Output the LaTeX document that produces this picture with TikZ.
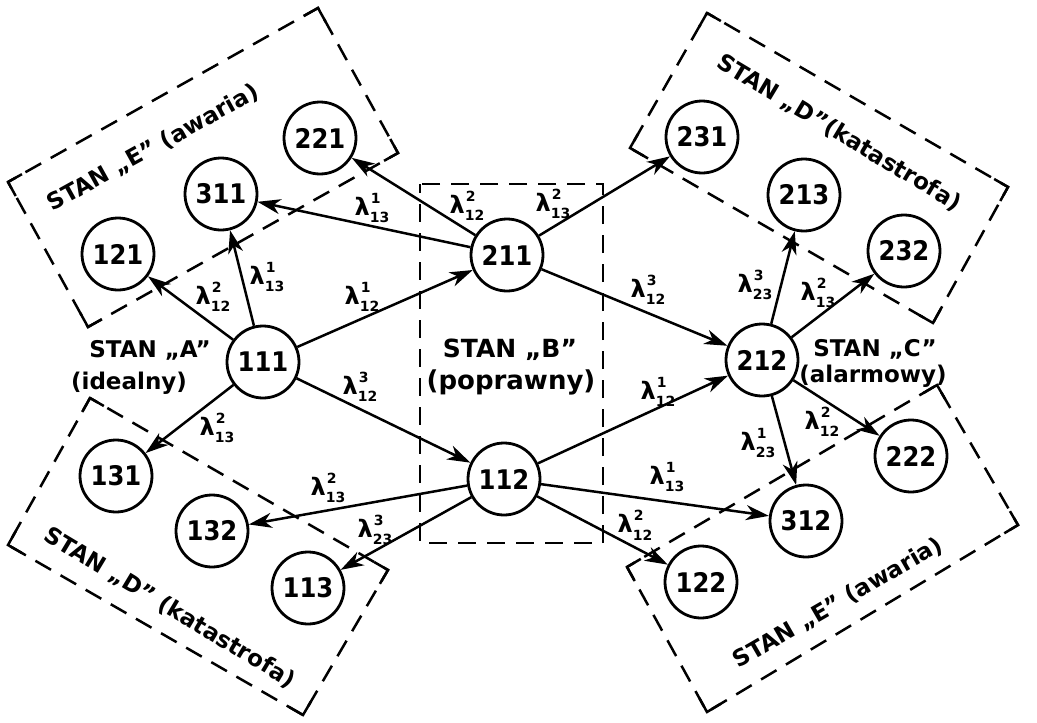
\documentclass[tikz,border=0pt]{standalone}
\usepackage{fontspec}
\setmainfont{DejaVu Sans}
\newfontfamily\numfont{DejaVu Sans Condensed}
\usetikzlibrary{arrows.meta,calc}
\newcommand\lam[2]{λ\raisebox{-0.3em}{\fontsize{14}{14}\selectfont\rlap{\raisebox{1.4em}{\hspace{1pt}#1}}#2}}
\begin{document}
\begin{tikzpicture}[x=1pt,y=-1pt,
  st/.style={circle,draw,line width=2.8pt,minimum size=72pt,inner sep=0pt,
    font=\numfont\fontsize{27}{27}\selectfont\bfseries},
  tr/.style={line width=2.5pt,-{Stealth[length=23pt,width=15pt,inset=7pt]}},
  lab/.style={font=\fontsize{24}{24}\selectfont\bfseries,inner sep=0pt},
  dbox/.style={line width=2.5pt,dash pattern=on 18pt off 11pt,dash phase=-20pt},
  crn/.style={line width=2.5pt,line join=miter},
  stxt/.style={font=\fontsize{23}{25}\selectfont\bfseries,inner sep=0pt}]
\useasboundingbox (0,0) rectangle (1037,723);

% dashed regions with solid corners
\foreach \ax/\ay/\bx/\by/\cx/\cy/\dx/\dy in {8/182/318/8/398/153/88/327,
                         90/398/388/570/303/715/8/545,
                         707/13/1008/187/933/323/630/148,
                         627/567/937/385/1018/525/707/712}{
  \coordinate (A) at (\ax,\ay);
  \coordinate (B) at (\bx,\by);
  \coordinate (C) at (\cx,\cy);
  \coordinate (D) at (\dx,\dy);
  \draw[dbox] (A) -- (B) -- (C) -- (D) -- cycle;
  \draw[crn] ($(A)!16pt!(B)$) -- (A) -- ($(A)!16pt!(D)$);
  \draw[crn] ($(B)!16pt!(C)$) -- (B) -- ($(B)!16pt!(A)$);
  \draw[crn] ($(C)!16pt!(D)$) -- (C) -- ($(C)!16pt!(B)$);
  \draw[crn] ($(D)!16pt!(A)$) -- (D) -- ($(D)!16pt!(C)$);
}
\draw[dbox] (420,184) rectangle (603,543);

% region texts
\node[stxt,rotate=29] (tE1) at (153,148) {STAN „E” (awaria)};
\node[stxt,rotate=-31] (tD1) at (170,608) {STAN „D” (katastrofa)};
\node[stxt,rotate=-31] (tD2) at (839,133) {STAN „D”(katastrofa)};
\node[stxt,rotate=30] (tE2) at (838,603) {STAN „E” (awaria)};
\node[stxt] (tA1) at (150,350) {STAN „A”};
\node[stxt] (tA2) at (129,383) {(idealny)};
\node[stxt,font=\fontsize{25}{27}\selectfont\bfseries] (tB1) at (510,350) {STAN „B”};
\node[stxt,font=\fontsize{26}{28}\selectfont\bfseries] (tB2) at (511,382) {(poprawny)};
\node[stxt] (tC1) at (875,349) {STAN „C”};
\node[stxt] (tC2) at (873,376) {(alarmowy)};

% states
\node[st] (n111) at (263,362) {111};
\node[st] (n121) at (118,254) {121};
\node[st] (n311) at (221,194) {311};
\node[st] (n221) at (320,138) {221};
\node[st] (n131) at (116,476) {131};
\node[st] (n132) at (212,531) {132};
\node[st] (n113) at (308,588) {113};
\node[st] (n211) at (507,255) {211};
\node[st] (n112) at (504,479) {112};
\node[st] (n231) at (702,137) {231};
\node[st] (n213) at (804,195) {213};
\node[st] (n232) at (904,251) {232};
\node[st] (n212) at (762,360) {212};
\node[st] (n222) at (911,456) {222};
\node[st] (n312) at (806,521) {312};
\node[st] (n122) at (701,582) {122};

% transitions
\draw[tr] (n111) -- (n121);
\draw[tr] (n111) -- (n311);
\draw[tr] (n111) -- (n211);
\draw[tr] (n111) -- (n131);
\draw[tr] (n111) -- (n112);
\draw[tr] (n211) -- (n311);
\draw[tr] (n211) -- (n221);
\draw[tr] (n211) -- (n231);
\draw[tr] (n211) -- (n212);
\draw[tr] (n112) -- (n212);
\draw[tr] (n112) -- (n132);
\draw[tr] (n112) -- (n113);
\draw[tr] (n112) -- (n312);
\draw[tr] (n112) -- (n122);
\draw[tr] (n212) -- (n213);
\draw[tr] (n212) -- (n232);
\draw[tr] (n212) -- (n312);
\draw[tr] (n212) -- (n222);

% rates
\node[lab] (l1) at (213,297) {\lam{2}{12}};
\node[lab] (l2) at (267,277) {\lam{1}{13}};
\node[lab] (l3) at (362,297) {\lam{1}{12}};
\node[lab] (l4) at (217,428) {\lam{2}{13}};
\node[lab] (l5) at (360,387) {\lam{3}{12}};
\node[lab] (l6) at (372,208) {\lam{1}{13}};
\node[lab] (l7) at (467,206) {\lam{2}{12}};
\node[lab] (l8) at (553,204) {\lam{2}{13}};
\node[lab] (l9) at (648,290) {\lam{3}{12}};
\node[lab] (l10) at (658,392) {\lam{1}{12}};
\node[lab] (l11) at (328,488) {\lam{2}{13}};
\node[lab] (l12) at (375,530) {\lam{3}{23}};
\node[lab] (l13) at (667,477) {\lam{1}{13}};
\node[lab] (l14) at (635,525) {\lam{2}{12}};
\node[lab] (l15) at (755,285) {\lam{3}{23}};
\node[lab] (l16) at (818,293) {\lam{2}{13}};
\node[lab] (l17) at (758,443) {\lam{1}{23}};
\node[lab] (l18) at (822,422) {\lam{2}{12}};
\end{tikzpicture}
\end{document}
